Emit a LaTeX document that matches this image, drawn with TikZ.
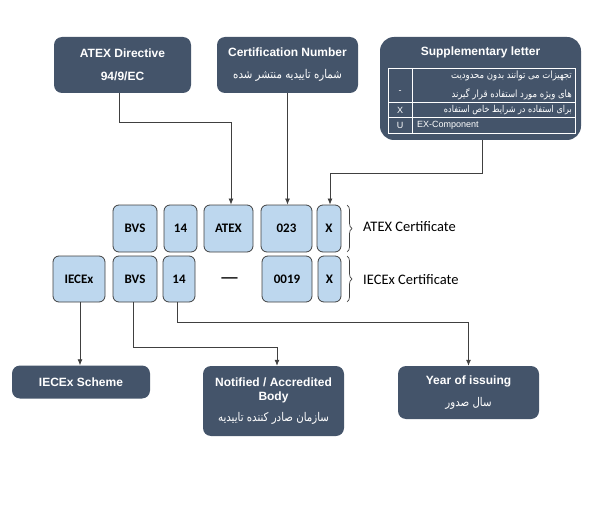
\documentclass[tikz,border=0pt]{standalone}
\usepackage{fontspec}
\setmainfont{Liberation Sans}
\newfontfamily\calibri{Carlito}
\newfontfamily\farsi[Script=Arabic,FakeStretch=0.85]{DejaVu Sans}
\TeXXeTstate=1
\usepackage{tikz}
\usetikzlibrary{arrows.meta,positioning,decorations.pathreplacing}
\definecolor{slate}{HTML}{44546A}
\definecolor{paleblue}{HTML}{BDD7EE}
\definecolor{rim}{HTML}{404040}
\newcommand{\fa}[2][12]{{\farsi\mdseries\fontsize{#1}{#1}\selectfont\beginR #2\endR}}

\begin{document}
\begin{tikzpicture}[x=1pt,y=-1pt,
    info/.style={rectangle,rounded corners=8pt,fill=slate,text=white,align=center,
      inner sep=0pt,font=\bfseries\fontsize{12}{14}\selectfont},
    part/.style={rectangle,rounded corners=6pt,draw=rim,line width=0.8pt,fill=paleblue,
      inner sep=0pt,font=\calibri\bfseries\fontsize{13}{15}\selectfont},
    cert/.style={anchor=west,inner sep=0pt,font=\calibri\fontsize{14.5}{16}\selectfont},
    cell/.style={inner sep=0pt,text=white,font=\fontsize{9}{11}\selectfont},
    link/.style={draw=rim,line width=0.8pt,-{Latex[length=6pt,width=5pt]}},
    brc/.style={draw=rim,line width=0.7pt,decorate,decoration={brace,amplitude=5pt}}]
   \useasboundingbox (0,0) rectangle (592,524);
   % top row
   \node[info,minimum width=137pt,minimum height=56pt] (atexdir) at (122.5,65)
     {ATEX Directive\\[9pt]94/9/EC};
   \node[info,minimum width=141pt,minimum height=56pt] (certnum) at (287.5,65)
     {Certification Number\\[8pt]\fa{شماره تاییدیه منتشر شده}};
   \node[info,rounded corners=14pt,minimum width=201pt,minimum height=103pt] (supp) at (480.5,88.5) {};
   \node[text=white,font=\bfseries\fontsize{12}{14}\selectfont] (supptitle) at (480.5,52) {Supplementary letter};
   \draw[white,line width=0.8pt] (388,68) rectangle (575,133)
     (412,68) -- (412,133) (388,102) -- (575,102) (388,117) -- (575,117);
   \node[cell] (dashkey) at (400,92) {-};
   \node[cell,anchor=east,align=right] (dashtxt) at (572,85.5)
     {\fa[10]{تجهیزات می توانند بدون محدودیت}\\[7pt]\fa[10]{های ویژه مورد استفاده قرار گیرند}};
   \node[cell] (xkey) at (400,110) {X};
   \node[cell,anchor=east] (xtxt) at (572,110) {\fa[9.5]{برای استفاده در شرایط خاص استفاده}};
   \node[cell] (ukey) at (400,125.5) {U};
   \node[cell,anchor=west] (utxt) at (417,125.5) {EX-Component};
   % ATEX certificate
   \node[part,minimum width=44pt,minimum height=47pt] (bvsA) at (135,228.5) {BVS};
   \node[part,minimum width=33pt,minimum height=47pt] (yrA) at (180.5,228.5) {14};
   \node[part,minimum width=49pt,minimum height=47pt] (atex) at (228.5,228.5) {ATEX};
   \node[part,minimum width=51pt,minimum height=47pt] (numA) at (286.5,228.5) {023};
   \node[part,minimum width=24pt,minimum height=47pt] (xA) at (329,228.5) {X};
   % IECEx certificate
   \node[part,minimum width=52pt,minimum height=46pt] (iecex) at (79,279) {IECEx};
   \node[part,minimum width=44pt,minimum height=46pt] (bvsB) at (135,279) {BVS};
   \node[part,minimum width=32pt,minimum height=46pt] (yrB) at (179,279) {14};
   \node[inner sep=0pt,font=\calibri\fontsize{22}{22}\selectfont] (gap) at (229.5,281) {—};
   \node[part,minimum width=50pt,minimum height=46pt] (numB) at (287,279) {0019};
   \node[part,minimum width=23pt,minimum height=46pt] (xB) at (329.5,279) {X};
   \draw[brc] (347,205) -- (347,252);
   \draw[brc] (347,256) -- (347,302);
   \node[cert] (atexcert) at (363,227) {ATEX Certificate};
   \node[cert] (iecexcert) at (363,280) {IECEx Certificate};
   % bottom row
   \node[info,minimum width=138pt,minimum height=33pt] (scheme) at (81,382) {IECEx Scheme};
   \node[info,minimum width=141pt,minimum height=70pt] (notified) at (273.5,401)
     {Notified / Accredited\\Body\\[7pt]\fa{سازمان صادر کننده تاییدیه}};
   \node[info,minimum width=141pt,minimum height=53pt] (year) at (468.5,392.5)
     {Year of issuing\\[8pt]\fa{سال صدور}};
   % connectors
   \draw[link] ([xshift=-3pt]atexdir.south) -- ++(0,29) -| ([xshift=2.5pt]atex.north);
   \draw[link] (certnum.south) -- (certnum.south |- numA.north);
   \draw[link] ([xshift=1.5pt]supp.south) -- ++(0,33) -| ([xshift=1pt]xA.north);
   \draw[link] ([xshift=1pt]iecex.south) -- ([xshift=1pt]iecex.south |- scheme.north);
   \draw[link] ([xshift=-2pt]bvsB.south) -- ++(0,45) -| ([xshift=3.5pt]notified.north);
   \draw[link] ([xshift=-2pt]yrB.south) -- ++(0,20) -| (year.north);
\end{tikzpicture}
\end{document}
